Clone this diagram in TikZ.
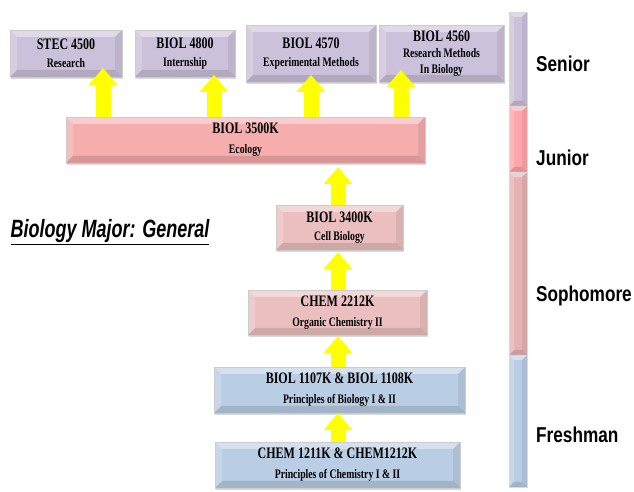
\documentclass[tikz,border=0pt]{standalone}
\usepackage{fontspec}
\setmainfont{Liberation Serif}[FakeStretch=0.75]
\newfontfamily\yearfont{Liberation Sans}[FakeStretch=0.8]
\newfontfamily\headfont{Liberation Sans}[FakeStretch=0.72]
\usetikzlibrary{arrows.meta,shadows}

\definecolor{seniorc}{HTML}{CCC1DA}
\definecolor{juniorc}{HTML}{F6ADAD}
\definecolor{sophc}{HTML}{EBBFBF}
\definecolor{freshc}{HTML}{B9CDE4}
\definecolor{barjunior}{HTML}{FFA6AB}
\definecolor{barsoph}{HTML}{E5B3B3}
\definecolor{arrowc}{HTML}{FFFF00}

\newcommand{\ctitle}[1]{{\fontsize{16}{18}\selectfont #1}}

\begin{document}
\begin{tikzpicture}[
    x=1pt,
    y=1pt,
    bevel/.style={
        path picture={
            \fill[white,opacity=.4] (path picture bounding box.north west) -- (path picture bounding box.north east)
                -- ([shift={(-#1,-#1)}]path picture bounding box.north east) -- ([shift={(#1,-#1)}]path picture bounding box.north west) -- cycle;
            \fill[white,opacity=.2] (path picture bounding box.north west) -- (path picture bounding box.south west)
                -- ([shift={(#1,#1)}]path picture bounding box.south west) -- ([shift={(#1,-#1)}]path picture bounding box.north west) -- cycle;
            \fill[black,opacity=.12] (path picture bounding box.south west) -- (path picture bounding box.south east)
                -- ([shift={(-#1,#1)}]path picture bounding box.south east) -- ([shift={(#1,#1)}]path picture bounding box.south west) -- cycle;
            \fill[black,opacity=.07] (path picture bounding box.north east) -- (path picture bounding box.south east)
                -- ([shift={(-#1,#1)}]path picture bounding box.south east) -- ([shift={(-#1,-#1)}]path picture bounding box.north east) -- cycle;
        }
    },
    course/.style={
        rectangle,
        fill=#1,
        draw=white!80!black,
        line width=.4pt,
        drop shadow={opacity=.3,shadow xshift=.8pt,shadow yshift=-1.6pt},
        bevel=7pt,
        inner sep=0pt,
        align=center,
        font=\bfseries\fontsize{13}{18}\selectfont
    },
    yearbar/.style={
        rectangle,
        fill=#1,
        draw=white!85!black,
        line width=.4pt,
        bevel=5pt,
        minimum width=18pt,
        inner sep=0pt
    },
    year/.style={
        anchor=west,
        inner sep=0pt,
        font=\yearfont\bfseries\fontsize{21.5}{24}\selectfont
    },
    up/.style={
        draw=arrowc,
        line width=15pt,
        -{Triangle[length=17pt,width=28pt]}
    }
]

\useasboundingbox (0,0) rectangle (634,492);

% Senior
\node[course=seniorc, minimum width=112pt, minimum height=47pt] (stec) at (66,438.5) {\ctitle{STEC 4500}\\Research};
\node[course=seniorc, minimum width=100pt, minimum height=47pt] (intern) at (185,438.5) {\ctitle{BIOL 4800}\\Internship};
\node[course=seniorc, minimum width=130pt, minimum height=57pt] (expm) at (311,438.5) {\ctitle{BIOL 4570}\\Experimental Methods};
\node[course=seniorc, minimum width=125pt, minimum height=57pt, font=\bfseries\fontsize{13}{16}\selectfont] (resm) at (441.5,438.5) {\ctitle{BIOL 4560}\\Research Methods\\In Biology};

% Junior
\node[course=juniorc, minimum width=359pt, minimum height=46pt, font=\bfseries\fontsize{13}{20}\selectfont] (ecology) at (245.5,352) {\ctitle{BIOL 3500K}\\Ecology};

% Sophomore
\node[course=sophc, minimum width=127pt, minimum height=45pt] (cell) at (339.5,264.5) {\ctitle{BIOL 3400K}\\Cell Biology};
\node[course=sophc, minimum width=179pt, minimum height=45pt, font=\bfseries\fontsize{13}{20}\selectfont] (orgchem) at (337.5,179.5) {\ctitle{CHEM 2212K}\\Organic Chemistry II};

% Freshman
\node[course=freshc, minimum width=251pt, minimum height=46pt, font=\bfseries\fontsize{13}{20}\selectfont] (biolone) at (339.5,102) {\ctitle{BIOL 1107K \& BIOL 1108K}\\Principles of Biology I \& II};
\node[course=freshc, minimum width=245pt, minimum height=46pt, font=\bfseries\fontsize{13}{20}\selectfont] (chemone) at (337.5,27) {\ctitle{CHEM 1211K \& CHEM1212K}\\Principles of Chemistry I \& II};

% Title
\node[inner sep=0pt, font=\headfont\bfseries\itshape\fontsize{25}{28}\selectfont] (major) at (110,260) {\underline{Biology Major: General}};

% Year bar
\node[yearbar=seniorc, minimum height=94pt] (senbar) at (518,433) {};
\node[yearbar=barjunior, minimum height=66pt] (junbar) at (518,353) {};
\node[yearbar=barsoph, minimum height=183pt] (sophbar) at (518,228.5) {};
\node[yearbar=freshc, minimum height=132pt] (freshbar) at (518,71) {};

\node[year] (senior) at (536,428) {Senior};
\node[year] (junior) at (536,334) {Junior};
\node[year] (sophomore) at (536,196) {Sophomore};
\node[year] (freshman) at (536,57) {Freshman};

% Arrows
\coordinate (t1) at (103,424);
\coordinate (t2) at (214,417);
\coordinate (t3) at (311,417);
\coordinate (t4) at (401,422);

\draw[up] (t1 |- ecology.north) -- (t1);
\draw[up] (t2 |- ecology.north) -- (t2);
\draw[up] (t3 |- ecology.north) -- (t3);
\draw[up] (t4 |- ecology.north) -- (t4);

\draw[up] (cell.north -| 338,0) -- ([yshift=-4pt]ecology.south -| 338,0);
\draw[up] (orgchem.north -| 338,0) -- ([yshift=-2pt]cell.south -| 338,0);
\draw[up] (biolone.north -| 338,0) -- ([yshift=-1pt]orgchem.south -| 338,0);
\draw[up] (chemone.north -| 338,0) -- (biolone.south -| 338,0);

\end{tikzpicture}
\end{document}
